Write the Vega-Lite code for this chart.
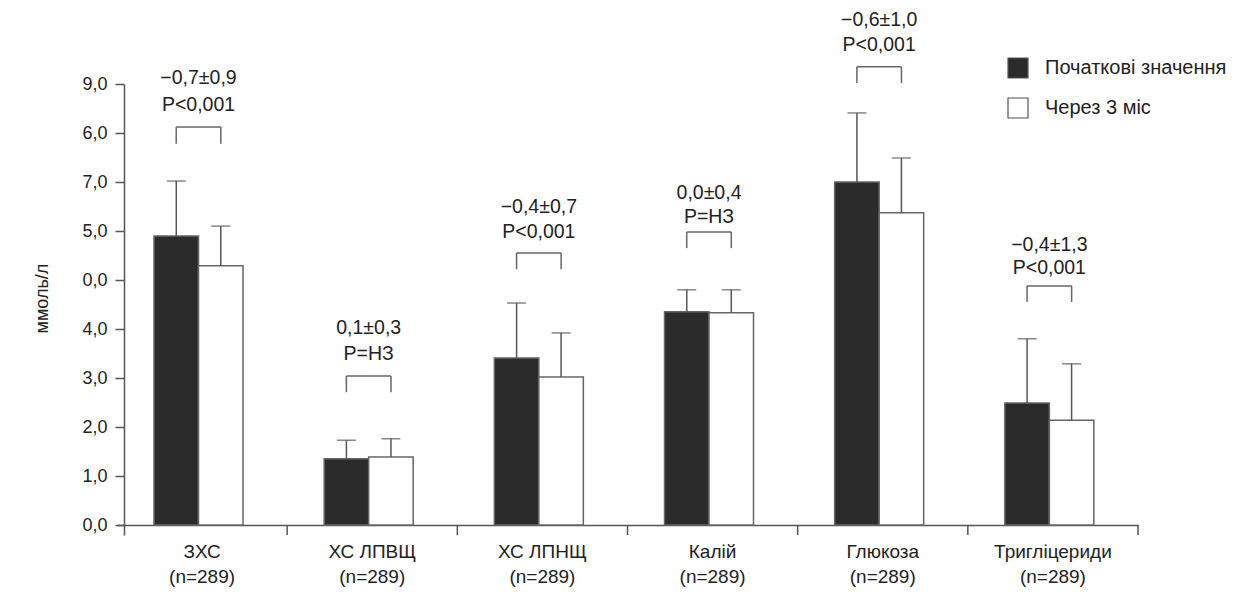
{
  "$schema": "https://vega.github.io/schema/vega-lite/v6.json",
  "autosize": {"type": "none"},
  "width": 1021,
  "height": 451,
  "padding": {"left": 117, "top": 84, "right": 110, "bottom": 60},
  "background": "white",
  "config": {"view": {"stroke": null}, "font": "Liberation Sans"},
  "datasets": {
    "bars": [
      {"cat": "ЗХС", "group": "Початкові значення", "mean": 5.90, "upper": 7.02},
      {"cat": "ЗХС", "group": "Через 3 міс", "mean": 5.29, "upper": 6.10},
      {"cat": "ХС ЛПВЩ", "group": "Початкові значення", "mean": 1.35, "upper": 1.73},
      {"cat": "ХС ЛПВЩ", "group": "Через 3 міс", "mean": 1.39, "upper": 1.76},
      {"cat": "ХС ЛПНЩ", "group": "Початкові значення", "mean": 3.41, "upper": 4.53},
      {"cat": "ХС ЛПНЩ", "group": "Через 3 міс", "mean": 3.02, "upper": 3.92},
      {"cat": "Калій", "group": "Початкові значення", "mean": 4.35, "upper": 4.80},
      {"cat": "Калій", "group": "Через 3 міс", "mean": 4.33, "upper": 4.80},
      {"cat": "Глюкоза", "group": "Початкові значення", "mean": 7.00, "upper": 8.41},
      {"cat": "Глюкоза", "group": "Через 3 міс", "mean": 6.37, "upper": 7.49},
      {"cat": "Тригліцериди", "group": "Початкові значення", "mean": 2.49, "upper": 3.80},
      {"cat": "Тригліцериди", "group": "Через 3 міс", "mean": 2.14, "upper": 3.29}
    ],
    "brackets": [
      {"cat": "ЗХС", "top": 8.12, "bottom": 7.78},
      {"cat": "ХС ЛПВЩ", "top": 3.04, "bottom": 2.71},
      {"cat": "ХС ЛПНЩ", "top": 5.55, "bottom": 5.22},
      {"cat": "Калій", "top": 5.98, "bottom": 5.65},
      {"cat": "Глюкоза", "top": 9.35, "bottom": 9.02},
      {"cat": "Тригліцериди", "top": 4.88, "bottom": 4.55}
    ],
    "notes": [
      {"cat": "ЗХС", "text": "−0,7±0,9", "y": 9.12},
      {"cat": "ЗХС", "text": "P<0,001", "y": 8.57},
      {"cat": "ХС ЛПВЩ", "text": "0,1±0,3", "y": 4.02},
      {"cat": "ХС ЛПВЩ", "text": "P=НЗ", "y": 3.49},
      {"cat": "ХС ЛПНЩ", "text": "−0,4±0,7", "y": 6.49},
      {"cat": "ХС ЛПНЩ", "text": "P<0,001", "y": 5.98},
      {"cat": "Калій", "text": "0,0±0,4", "y": 6.78},
      {"cat": "Калій", "text": "P=НЗ", "y": 6.29},
      {"cat": "Глюкоза", "text": "−0,6±1,0", "y": 10.31},
      {"cat": "Глюкоза", "text": "P<0,001", "y": 9.80},
      {"cat": "Тригліцериди", "text": "−0,4±1,3", "y": 5.71},
      {"cat": "Тригліцериди", "text": "P<0,001", "y": 5.24}
    ]
  },
  "layer": [
    {
      "data": {"name": "bars"},
      "mark": {"type": "bar", "stroke": "#666", "strokeWidth": 1.5},
      "encoding": {
        "x": {
          "field": "cat", "type": "nominal", "sort": null,
          "scale": {"domain": ["ЗХС", "ХС ЛПВЩ", "ХС ЛПНЩ", "Калій", "Глюкоза", "Тригліцериди"], "paddingInner": 0, "paddingOuter": 0},
          "axis": {
            "title": null, "ticks": false,
            "labelExpr": "[datum.label, '(n=289)']",
            "labelFontSize": 19, "labelColor": "#222", "labelPadding": 17, "labelLineHeight": 25, "labelAngle": 0,
            "domainColor": "#555", "domainWidth": 1.5, "offset": -10
          }
        },
        "xOffset": {
          "field": "group", "type": "nominal", "sort": null,
          "scale": {"domain": ["Початкові значення", "Через 3 міс"], "paddingInner": 0, "paddingOuter": 0.912, "align": 0.456}
        },
        "y": {
          "field": "mean", "type": "quantitative",
          "scale": {"domain": [-0.204, 9], "nice": false, "zero": false},
          "axis": {
            "values": [0, 1, 2, 3, 4, 5, 6, 7, 8, 9],
            "labelExpr": "['0,0','1,0','2,0','3,0','4,0','0,0','5,0','7,0','6,0','9,0'][datum.value]",
            "title": "ммоль/л", "titleFontSize": 18, "titleFontWeight": "normal", "titleColor": "#222", "titlePadding": 30, "titleY": 214,
            "labelFontSize": 18, "labelColor": "#222", "labelPadding": 8,
            "tickSize": 9, "tickColor": "#555", "tickWidth": 1.5,
            "domainColor": "#555", "domainWidth": 1.5, "grid": false, "offset": -7
          }
        },
        "y2": {"datum": 0},
        "color": {
          "field": "group", "type": "nominal", "sort": null,
          "scale": {"domain": ["Початкові значення", "Через 3 міс"], "range": ["#2b2b2b", "#ffffff"]},
          "legend": {
            "title": null, "orient": "none", "legendX": 890, "legendY": -27, "padding": 0,
            "symbolType": "square", "symbolSize": 400, "symbolStrokeColor": "#555", "symbolStrokeWidth": 1.2,
            "labelFontSize": 20, "labelColor": "#222", "labelOffset": 16, "rowPadding": 14, "labelLimit": 300
          }
        }
      }
    },
    {
      "data": {"name": "brackets"},
      "mark": {"type": "rule", "color": "#555", "strokeWidth": 1.5},
      "encoding": {
        "x": {"field": "cat", "type": "nominal", "sort": null, "bandPosition": 1},
        "y": {"datum": 0, "type": "quantitative"},
        "y2": {"datum": -0.204}
      }
    },
    {
      "data": {"name": "bars"},
      "mark": {"type": "rule", "color": "#555", "strokeWidth": 1.5},
      "encoding": {
        "x": {"field": "cat", "type": "nominal", "sort": null},
        "xOffset": {"field": "group", "type": "nominal", "sort": null},
        "y": {"field": "mean", "type": "quantitative"},
        "y2": {"field": "upper"}
      }
    },
    {
      "data": {"name": "bars"},
      "mark": {"type": "tick", "color": "#555", "size": 19, "thickness": 1.5, "orient": "horizontal"},
      "encoding": {
        "x": {"field": "cat", "type": "nominal", "sort": null},
        "xOffset": {"field": "group", "type": "nominal", "sort": null},
        "y": {"field": "upper", "type": "quantitative"}
      }
    },
    {
      "data": {"name": "brackets"},
      "mark": {"type": "rule", "color": "#666", "strokeWidth": 1.5},
      "encoding": {
        "x": {"field": "cat", "type": "nominal", "sort": null, "bandPosition": 0.348},
        "y": {"field": "bottom", "type": "quantitative"},
        "y2": {"field": "top"}
      }
    },
    {
      "data": {"name": "brackets"},
      "mark": {"type": "rule", "color": "#666", "strokeWidth": 1.5},
      "encoding": {
        "x": {"field": "cat", "type": "nominal", "sort": null, "bandPosition": 0.61},
        "y": {"field": "bottom", "type": "quantitative"},
        "y2": {"field": "top"}
      }
    },
    {
      "data": {"name": "brackets"},
      "mark": {"type": "rule", "color": "#666", "strokeWidth": 1.5},
      "encoding": {
        "x": {"field": "cat", "type": "nominal", "sort": null, "bandPosition": 0.348},
        "x2": {"field": "cat", "bandPosition": 0.61},
        "y": {"field": "top", "type": "quantitative"}
      }
    },
    {
      "data": {"name": "notes"},
      "mark": {"type": "text", "fontSize": 19.5, "color": "#222", "align": "center", "baseline": "middle"},
      "encoding": {
        "x": {"field": "cat", "type": "nominal", "sort": null, "bandPosition": 0.479},
        "y": {"field": "y", "type": "quantitative"},
        "text": {"field": "text"}
      }
    }
  ]
}
